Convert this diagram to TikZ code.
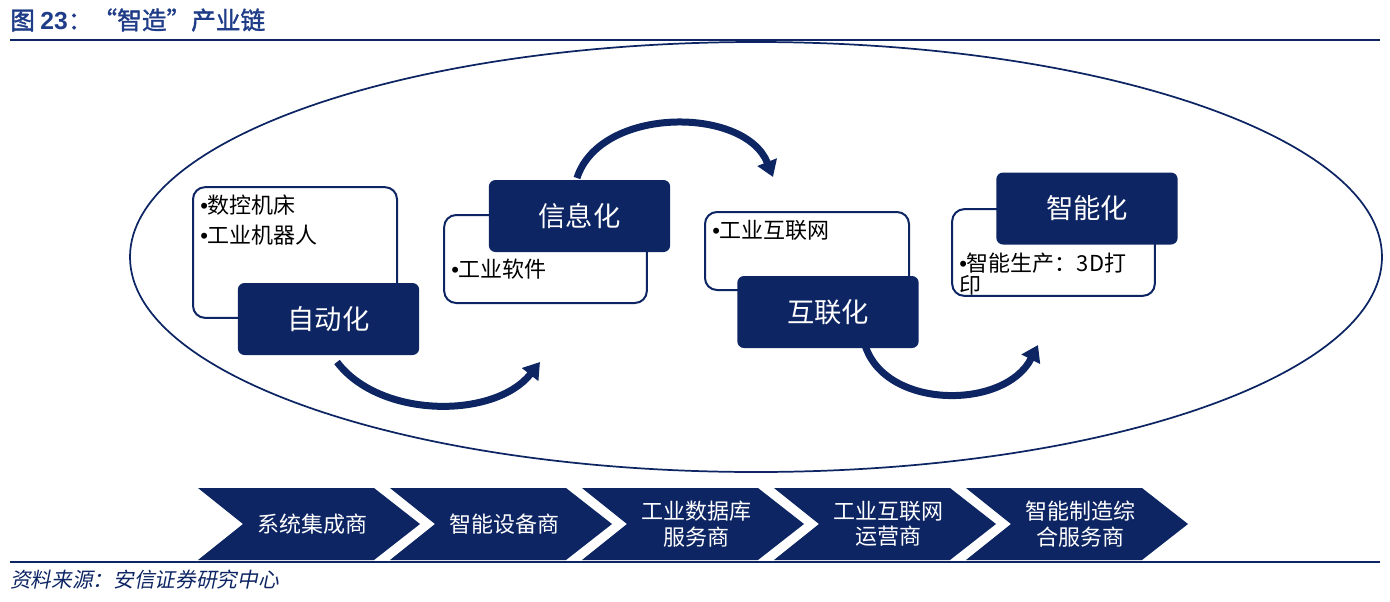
\documentclass[tikz,border=0pt]{standalone}
\usepackage{fontspec}
\setmainfont{Liberation Sans}
\newfontfamily\cjk{Noto Sans CJK SC}
\newfontfamily\cjktitle[FakeBold=1.5]{Noto Sans CJK SC}
\newfontfamily\cjksrc[FakeSlant=0.2]{Noto Sans CJK SC}
\usetikzlibrary{arrows.meta,positioning}

\definecolor{navy}{HTML}{0D2563}
\definecolor{titleblue}{HTML}{1F3C88}
\newcommand{\bul}{{\rmfamily •}}

\tikzset{
  notebox/.style={draw=navy, line width=1.5pt, fill=white, rounded corners=9pt,
    inner sep=0pt},
  stagebox/.style={fill=navy, rounded corners=5pt, text=white, inner sep=0pt,
    minimum width=136pt, minimum height=54pt, font=\cjk\fontsize{20.5}{24}\selectfont},
  notetext/.style={anchor=north west, align=left, inner sep=0pt,
    font=\cjk\fontsize{16.5}{22.5}\selectfont},
  flowarrow/.style={draw=navy, line width=5.25pt, -{Triangle[length=12pt,width=15pt]}},
  chevtext/.style={text=white, align=center, font=\cjk\fontsize{16.5}{19}\selectfont}
}

\begin{document}
\begin{tikzpicture}[x=0.75pt, y=-0.75pt]

  \useasboundingbox (0,0) rectangle (1390,601);

  % Title and rules
  \node[anchor=west, inner sep=0pt, text=titleblue, font=\cjktitle\fontsize{18.5}{20}\selectfont]
    (title) at (10,20) {图 {\bfseries\rmfamily 23}：“智造”产业链};
  \draw[navy, line width=1.5pt] (10,40) -- (1380,40);
  \draw[navy, line width=1.5pt] (10,562) -- (1380,562);

  % The big ellipse around the four stages
  \draw[navy, line width=1.3pt] (756,257) ellipse [x radius=626, y radius=215];

  % Note boxes (behind the stage boxes)
  \node[notebox, minimum width=153pt, minimum height=98pt]  (n1) at (295,252.5) {};
  \node[notebox, minimum width=152pt, minimum height=66pt]  (n2) at (545.5,259) {};
  \node[notebox, minimum width=153pt, minimum height=58.5pt] (n3) at (807,251) {};
  \node[notebox, minimum width=152pt, minimum height=65pt]  (n4) at (1053.5,252.5) {};

  \node[notetext] (t1) at (200,195) {\bul 数控机床\\\bul 工业机器人};
  \node[notetext] (t2) at (451,259) {\bul 工业软件};
  \node[notetext] (t3) at (712,220) {\bul 工业互联网};
  \node[notetext, font=\cjk\fontsize{16.5}{16}\selectfont] (t4) at (959,253) {\bul 智能生产：3D打\\印};

  % Stage boxes
  \node[stagebox] (s1) at (328.5,319)  {自动化};
  \node[stagebox] (s2) at (579.5,216)  {信息化};
  \node[stagebox] (s3) at (828,312)    {互联化};
  \node[stagebox] (s4) at (1087,208.5) {智能化};

  % Curved arrows between the stages
  \coordinate (a1s) at (337,362);  \coordinate (a1e) at (540,362);
  \coordinate (a2s) at (577,178);  \coordinate (a2e) at (773,177);
  \coordinate (a3s) at (865,345);  \coordinate (a3e) at (1038,345);
  \draw[flowarrow] (a1s) .. controls (380,419) and (495,419) .. (a1e);
  \draw[flowarrow] (a2s) .. controls (600,106) and (745,106) .. (a2e);
  \draw[flowarrow] (a3s) .. controls (885,410) and (1005,410) .. (a3e);

  % Chevron chain
  \foreach \i/\txt in {0/系统集成商, 1/智能设备商, 2/{工业数据库\\服务商},
                       3/{工业互联网\\运营商}, 4/{智能制造综\\合服务商}} {
    \pgfmathsetmacro{\xl}{198+192*\i}
    \fill[navy] (\xl,488) -- ++(176,0) -- ++(46,36) -- ++(-46,36) -- ++(-176,0)
      -- ++(45,-36) -- cycle;
    \node[chevtext] (c\i) at (\xl+114,524) {\txt};
  }

  % Source
  \node[anchor=west, inner sep=0pt, text=navy, font=\cjksrc\fontsize{15.5}{17}\selectfont]
    (src) at (10,580) {资料来源：安信证券研究中心};

\end{tikzpicture}
\end{document}
